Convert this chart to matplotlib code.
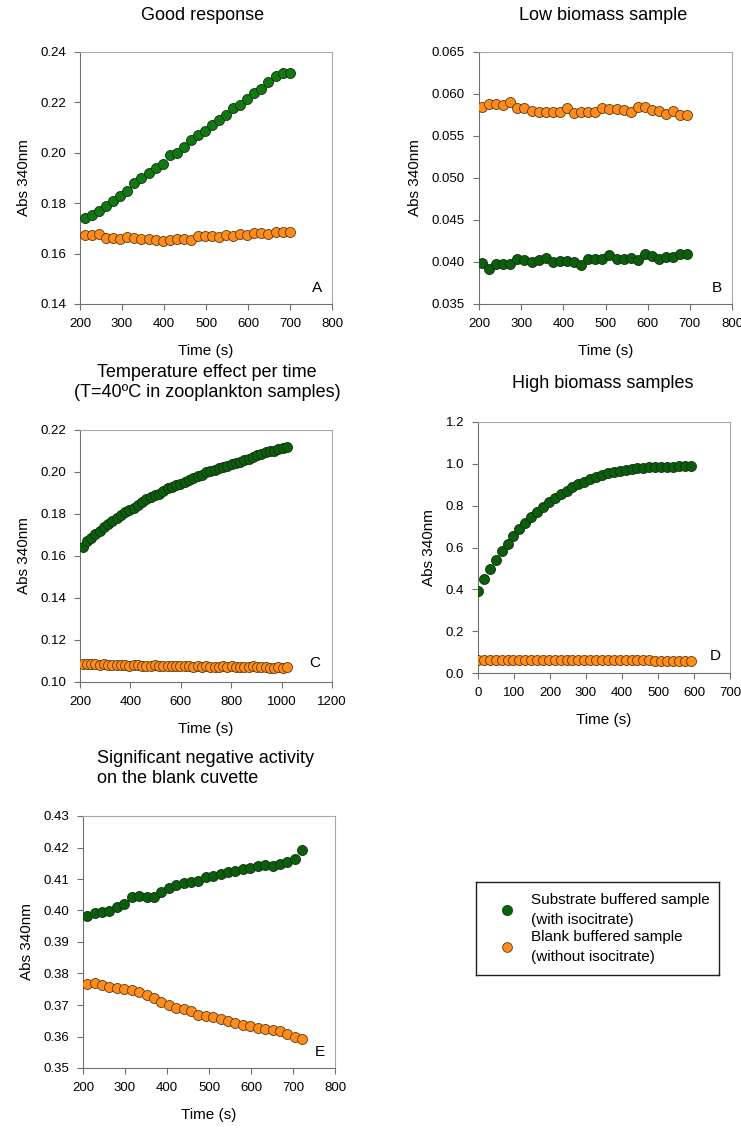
import matplotlib
matplotlib.use("Agg")
import matplotlib.pyplot as plt
from matplotlib.lines import Line2D

plt.rcParams['font.family'] = ['Liberation Sans', 'DejaVu Sans']

W, H = 741, 1128

GREEN_A = "#107a10"
GREEN = "#0b5e0b"
ORANGE = "#ff8c1a"

# --- panel A: good response
a_time = [212 + 16.8 * i for i in range(30)]
a_sub = [0.174, 0.1755, 0.177, 0.179, 0.181, 0.183, 0.185, 0.188, 0.190, 0.192,
         0.194, 0.1955, 0.199, 0.200, 0.2025, 0.205, 0.207, 0.2085, 0.211, 0.213,
         0.215, 0.2178, 0.219, 0.2215, 0.2237, 0.2255, 0.228, 0.2305, 0.2315, 0.2318]
a_blank = [0.1675, 0.1675, 0.1677, 0.1663, 0.1660, 0.1658, 0.1664, 0.1660, 0.1658, 0.1658,
           0.1653, 0.1650, 0.1653, 0.1658, 0.1656, 0.1652, 0.1668, 0.1670, 0.1670, 0.1665,
           0.1672, 0.1668, 0.1678, 0.1675, 0.1680, 0.1680, 0.1676, 0.1684, 0.1686, 0.1686]

# --- panel B: low biomass sample
b_time = [207 + 16.8 * i for i in range(30)]
b_sub = [0.0399, 0.0392, 0.0398, 0.0398, 0.0398, 0.0403, 0.0402, 0.0400, 0.0402, 0.0405,
         0.0400, 0.0401, 0.0401, 0.0400, 0.0397, 0.0403, 0.0404, 0.0404, 0.0408, 0.0404,
         0.0404, 0.0405, 0.0402, 0.0409, 0.0407, 0.0404, 0.0406, 0.0406, 0.0410, 0.0410]
b_blank = [0.0585, 0.0588, 0.0588, 0.0587, 0.0591, 0.0583, 0.0583, 0.0580, 0.0579, 0.0578,
           0.0578, 0.0578, 0.0583, 0.0577, 0.0579, 0.0579, 0.0579, 0.0583, 0.0582, 0.0582,
           0.0581, 0.0578, 0.0584, 0.0584, 0.0581, 0.0580, 0.0576, 0.0580, 0.0575, 0.0575]

# --- panel C: temperature effect
c_time = [210 + 16.9 * i for i in range(49)]
c_sub = [0.1645, 0.1670, 0.1688, 0.1705, 0.1720, 0.1738, 0.1752, 0.1768, 0.1780, 0.1795,
         0.1808, 0.1818, 0.1830, 0.1845, 0.1858, 0.1870, 0.1880, 0.1890, 0.1895, 0.1910,
         0.1922, 0.1930, 0.1940, 0.1945, 0.1953, 0.1962, 0.1972, 0.1980, 0.1988, 0.2000,
         0.2005, 0.2008, 0.2018, 0.2025, 0.2030, 0.2038, 0.2043, 0.2048, 0.2055, 0.2062,
         0.2070, 0.2080, 0.2088, 0.2095, 0.2100, 0.2098, 0.2108, 0.2115, 0.2118]
c_blank = [0.1085, 0.1086, 0.1087, 0.1084, 0.1083, 0.1084, 0.1083, 0.1083, 0.1082, 0.1081,
           0.1080, 0.1078, 0.1080, 0.1079, 0.1077, 0.1077, 0.1076, 0.1079, 0.1075, 0.1075,
           0.1076, 0.1074, 0.1076, 0.1075, 0.1075, 0.1074, 0.1073, 0.1074, 0.1073, 0.1074,
           0.1073, 0.1073, 0.1072, 0.1074, 0.1073, 0.1074, 0.1072, 0.1072, 0.1071, 0.1072,
           0.1076, 0.1072, 0.1071, 0.1072, 0.1069, 0.1068, 0.1070, 0.1069, 0.1072]

# --- panel D: high biomass samples
d_time = [16.4 * i for i in range(37)]
d_sub = [0.390, 0.448, 0.497, 0.541, 0.581, 0.619, 0.655, 0.688, 0.718, 0.745,
         0.771, 0.795, 0.816, 0.836, 0.856, 0.872, 0.888, 0.902, 0.915, 0.926,
         0.937, 0.946, 0.954, 0.961, 0.966, 0.971, 0.975, 0.978, 0.981, 0.983,
         0.985, 0.986, 0.987, 0.987, 0.988, 0.988, 0.988]
d_blank = [0.060, 0.060, 0.060, 0.060, 0.060, 0.060, 0.060, 0.060, 0.060, 0.060,
           0.060, 0.060, 0.060, 0.060, 0.060, 0.060, 0.060, 0.060, 0.060, 0.060,
           0.060, 0.060, 0.060, 0.060, 0.060, 0.060, 0.060, 0.060, 0.060, 0.060,
           0.059, 0.059, 0.059, 0.059, 0.059, 0.058, 0.058]

# --- panel E: negative activity on blank
e_time = [210 + 17.65 * i for i in range(30)]
e_sub = [0.3982, 0.3992, 0.3996, 0.3997, 0.4012, 0.4021, 0.4043, 0.4047, 0.4043, 0.4042,
         0.4060, 0.4072, 0.4080, 0.4086, 0.4090, 0.4095, 0.4105, 0.4108, 0.4115, 0.4123,
         0.4126, 0.4132, 0.4136, 0.4140, 0.4145, 0.4140, 0.4148, 0.4155, 0.4163, 0.4193]
e_blank = [0.3766, 0.3770, 0.3763, 0.3757, 0.3755, 0.3750, 0.3748, 0.3740, 0.3732, 0.3723,
           0.3710, 0.3701, 0.3691, 0.3688, 0.3680, 0.3667, 0.3665, 0.3663, 0.3657, 0.3650,
           0.3643, 0.3637, 0.3633, 0.3628, 0.3625, 0.3620, 0.3617, 0.3607, 0.3598, 0.3591]

TICK_FS = 9.5
LABEL_FS = 11
TITLE_FS = 13


def box(l, t, r, b):
    return [l / W, 1 - b / H, (r - l) / W, (b - t) / H]


def panel(fig, pos, t, sub, blank, green, xlim, xticks, ylim, yticks, yfmt, letter, lpos):
    ax = fig.add_axes(box(*pos))
    ax.scatter(t, blank, s=52, c=ORANGE, edgecolors="#5a3a10", linewidths=0.6, zorder=3)
    ax.scatter(t, sub, s=52, c=green, edgecolors="#103010", linewidths=0.6, zorder=3)
    ax.set_xlim(*xlim)
    ax.set_ylim(*ylim)
    ax.set_xticks(xticks)
    ax.set_yticks(yticks)
    ax.set_yticklabels([yfmt.format(v) for v in yticks])
    for s in ("left", "bottom"):
        ax.spines[s].set_color("#707070")
    for s in ("top", "right"):
        ax.spines[s].set_color("#a8a8a8")
    ax.tick_params(direction="out", length=4, width=0.8, color="#707070",
                   labelsize=TICK_FS, pad=6)
    ax.set_xlabel("Time (s)", fontsize=LABEL_FS, labelpad=10.5)
    ax.set_ylabel("Abs 340nm", fontsize=LABEL_FS, labelpad=7)
    ax.text(lpos[0], lpos[1], letter, transform=ax.transAxes, fontsize=LABEL_FS,
            ha="center", va="center")
    return ax


fig = plt.figure(figsize=(W / 100, H / 100), dpi=100)

axA = panel(fig, (80, 52, 332, 304), a_time, a_sub, a_blank, GREEN_A,
            (200, 800), range(200, 801, 100), (0.14, 0.24),
            [0.14, 0.16, 0.18, 0.20, 0.22, 0.24], "{:.2f}", "A", (0.94, 0.065))
axB = panel(fig, (479, 52, 732, 304), b_time, b_sub, b_blank, GREEN,
            (200, 800), range(200, 801, 100), (0.035, 0.065),
            [0.035, 0.040, 0.045, 0.050, 0.055, 0.060, 0.065], "{:.3f}", "B", (0.94, 0.065))
axC = panel(fig, (80, 430, 332, 682), c_time, c_sub, c_blank, GREEN,
            (200, 1200), range(200, 1201, 200), (0.10, 0.22),
            [0.10, 0.12, 0.14, 0.16, 0.18, 0.20, 0.22], "{:.2f}", "C", (0.93, 0.075))
axD = panel(fig, (478, 422, 730, 673), d_time, d_sub, d_blank, GREEN,
            (0, 700), range(0, 701, 100), (0.0, 1.2),
            [0.0, 0.2, 0.4, 0.6, 0.8, 1.0, 1.2], "{:.1f}", "D", (0.94, 0.068))
axE = panel(fig, (83, 816, 335, 1068), e_time, e_sub, e_blank, GREEN,
            (200, 800), range(200, 801, 100), (0.35, 0.43),
            [0.35, 0.36, 0.37, 0.38, 0.39, 0.40, 0.41, 0.42, 0.43], "{:.2f}", "E", (0.94, 0.063))

# titles
fig.text(203 / W, 1 - 15 / H, "Good response", fontsize=TITLE_FS, ha="center", va="center")
fig.text(603 / W, 1 - 15 / H, "Low biomass sample", fontsize=TITLE_FS, ha="center", va="center")
fig.text(207 / W, 1 - 382.5 / H, "Temperature effect per time\n(T=40ºC in zooplankton samples)",
         fontsize=TITLE_FS, ha="center", va="center", linespacing=1.3)
fig.text(603 / W, 1 - 384 / H, "High biomass samples", fontsize=TITLE_FS, ha="center", va="center")
fig.text(97 / W, 1 - 768.5 / H, "Significant negative activity\non the blank cuvette",
         fontsize=TITLE_FS, ha="left", va="center", linespacing=1.3)

# legend box
lg = fig.add_axes(box(476, 882, 719, 975))
lg.set_xticks([])
lg.set_yticks([])
for s in lg.spines.values():
    s.set_color("#202020")
    s.set_linewidth(1.0)
handles = [
    Line2D([], [], ls="", marker="o", ms=7, mfc=GREEN, mec=GREEN),
    Line2D([], [], ls="", marker="o", ms=7, mfc=ORANGE, mec="#5a3a10", mew=0.6),
]
labels = ["Substrate buffered sample\n(with isocitrate)",
          "Blank buffered sample\n(without isocitrate)"]
leg = lg.legend(handles, labels, loc="center left", frameon=False, fontsize=11,
                handletextpad=0.8, borderaxespad=0.9, labelspacing=0.2, handlelength=1.5)
for txt in leg.get_texts():
    txt.set_linespacing(1.55)

fig.savefig("out.png", dpi=100)
